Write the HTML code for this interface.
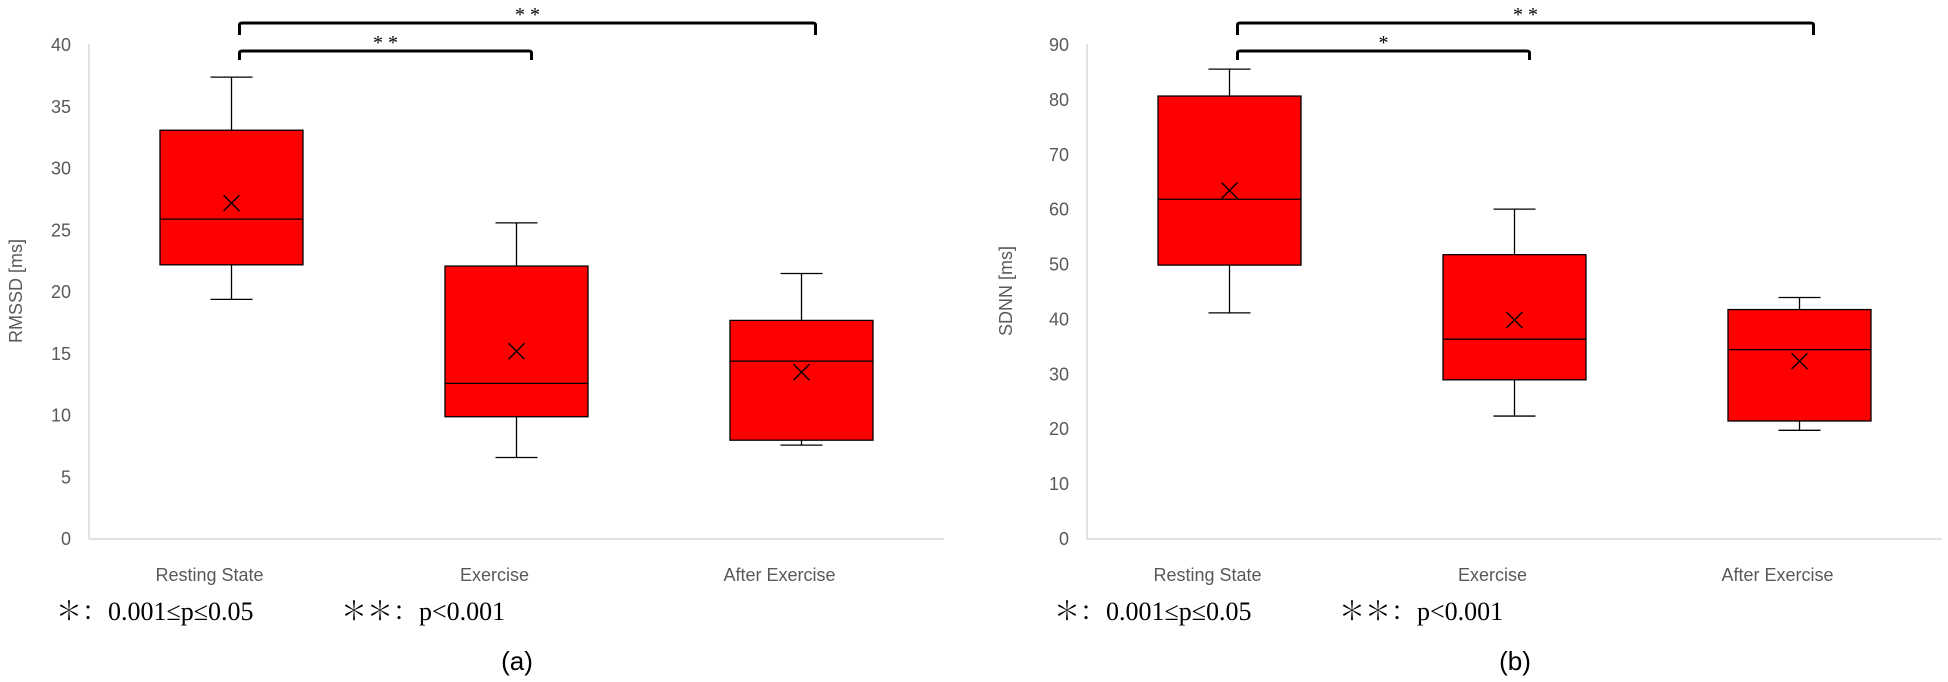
<!DOCTYPE html>
<html><head><meta charset="utf-8">
<style>
html,body{margin:0;padding:0;background:#fff;}
svg{display:block;}
.tick{font-family:"Liberation Sans",sans-serif;font-size:18px;fill:#595959;}
.cat{font-family:"Liberation Sans",sans-serif;font-size:18px;fill:#595959;}
.leg{font-family:"Liberation Serif","Noto Serif CJK SC",serif;font-size:26px;fill:#000;}
.star{font-family:"Liberation Serif",serif;font-size:20px;fill:#000;}
.panel{font-family:"Liberation Sans",sans-serif;font-size:26px;fill:#000;}
</style></head>
<body>
<svg id="chart" width="1948" height="682" xmlns="http://www.w3.org/2000/svg"></svg>
<script>
const categories = ["Resting State","Exercise","After Exercise"];
// panel a: RMSSD
const rmssdMin = [19.4, 6.6, 7.6];
const rmssdQ1 = [22.2, 9.9, 8.0];
const rmssdMed = [25.9, 12.6, 14.4];
const rmssdQ3 = [33.1, 22.1, 17.7];
const rmssdMax = [37.4, 25.6, 21.5];
const rmssdMean = [27.2, 15.2, 13.5];
const rmssdTicks = [0,5,10,15,20,25,30,35,40];
// panel b: SDNN
const sdnnMin = [41.2, 22.4, 19.8];
const sdnnQ1 = [49.9, 29.0, 21.5];
const sdnnMed = [61.9, 36.4, 34.5];
const sdnnQ3 = [80.7, 51.8, 41.8];
const sdnnMax = [85.6, 60.1, 44.0];
const sdnnMean = [63.5, 39.9, 32.4];
const sdnnTicks = [0,10,20,30,40,50,60,70,80,90];

const svg = document.getElementById('chart');
const NS = 'http://www.w3.org/2000/svg';
function mk(tag, attrs, parent){
  const e = document.createElementNS(NS, tag);
  for (const k in attrs) e.setAttribute(k, attrs[k]);
  (parent||svg).appendChild(e);
  return e;
}

function panel(cfg){
  const g = mk('g', {});
  
  
  const x0 = cfg.x0, yb = 539, yt = 44, catW = 285;
  const yMax = cfg.ticks[cfg.ticks.length-1];
  const ys = v => yb - (v / yMax) * (yb - 45);
  const xs = i => x0 + catW * (i + 0.5);
  const ax = mk('line', {x1:x0, y1:yt, x2:x0, y2:yb, stroke:'#d9d9d9','stroke-width':1.5}, g);
  
  
  const bx = mk('line', {x1:x0, y1:yb, x2:x0+catW*3, y2:yb, stroke:'#d9d9d9','stroke-width':1.5}, g);
  
  
  cfg.ticks.forEach(t => {
    const tx = mk('text', {x:x0-18, y:ys(t)+6, 'text-anchor':'end', class:'tick'}, g);
    tx.textContent = t;
    
    
  });
  const ttl = mk('text', {x:0, y:0, 'text-anchor':'middle', class:'tick', transform:`translate(${cfg.titleX},291) rotate(-90)`}, g);
  ttl.textContent = cfg.title;
  
  
  categories.forEach((c, i) => {
    const cx = xs(i);
    const bg = mk('g', {}, g);
    
    
    mk('line', {x1:cx, y1:ys(cfg.max[i]), x2:cx, y2:ys(cfg.q3[i]), stroke:'#000','stroke-width':1.3}, bg);
    mk('line', {x1:cx, y1:ys(cfg.q1[i]), x2:cx, y2:ys(cfg.min[i]), stroke:'#000','stroke-width':1.3}, bg);
    mk('line', {x1:cx-21, y1:ys(cfg.max[i]), x2:cx+21, y2:ys(cfg.max[i]), stroke:'#000','stroke-width':1.3}, bg);
    mk('line', {x1:cx-21, y1:ys(cfg.min[i]), x2:cx+21, y2:ys(cfg.min[i]), stroke:'#000','stroke-width':1.3}, bg);
    mk('rect', {x:cx-71.5, y:ys(cfg.q3[i]), width:143, height:ys(cfg.q1[i])-ys(cfg.q3[i]), fill:'#ff0000', stroke:'#000','stroke-width':1.3}, bg);
    mk('line', {x1:cx-71.5, y1:ys(cfg.med[i]), x2:cx+71.5, y2:ys(cfg.med[i]), stroke:'#000','stroke-width':1.3}, bg);
    const my = ys(cfg.mean[i]);
    mk('path', {d:`M${cx-8},${my-8}L${cx+8},${my+8}M${cx+8},${my-8}L${cx-8},${my+8}`, stroke:'#000','stroke-width':1.4, fill:'none'}, bg);
    const lb = mk('text', {x:cx-22, y:581, 'text-anchor':'middle', class:'cat'}, g);
    lb.textContent = c;
    
    
  });
  const bl = xs(0) + 8;
  const b1 = mk('path', {d:`M${bl},60 L${bl},53 Q${bl},51 ${bl+3},51 L${xs(1)+12},51 Q${xs(1)+15},51 ${xs(1)+15},53 L${xs(1)+15},60`, stroke:'#000','stroke-width':3, fill:'none'}, g);
  
  
  const b2 = mk('path', {d:`M${bl},35 L${bl},25 Q${bl},23 ${bl+3},23 L${xs(2)+11},23 Q${xs(2)+14},23 ${xs(2)+14},25 L${xs(2)+14},35`, stroke:'#000','stroke-width':3, fill:'none'}, g);
  
  
  const s1 = mk('text', {x:(bl+xs(1)+15)/2, y:49, 'text-anchor':'middle', class:'star'}, g);
  s1.textContent = cfg.sig1;
  
  
  const s2 = mk('text', {x:(bl+xs(2)+14)/2, y:21, 'text-anchor':'middle', class:'star'}, g);
  s2.textContent = '* *';
  
  
  const l1 = mk('text', {x:x0-33, y:620, class:'leg'}, g);
  l1.textContent = '＊：0.001≤p≤0.05';
  
  
  const l2 = mk('text', {x:x0+252, y:620, class:'leg'}, g);
  l2.textContent = '＊＊：p<0.001';
  
  
  const pl = mk('text', {x:x0+428, y:670, 'text-anchor':'middle', class:'panel'}, g);
  pl.textContent = cfg.label;
  
  
}

panel({name:'rmssd-chart', x0:89, ticks:rmssdTicks, title:'RMSSD [ms]', titleX:22,
  min:rmssdMin, q1:rmssdQ1, med:rmssdMed, q3:rmssdQ3, max:rmssdMax, mean:rmssdMean, sig1:'* *', label:'(a)'});
panel({name:'sdnn-chart', x0:1087, ticks:sdnnTicks, title:'SDNN [ms]', titleX:1012,
  min:sdnnMin, q1:sdnnQ1, med:sdnnMed, q3:sdnnQ3, max:sdnnMax, mean:sdnnMean, sig1:'*', label:'(b)'});
</script>
</body></html>
